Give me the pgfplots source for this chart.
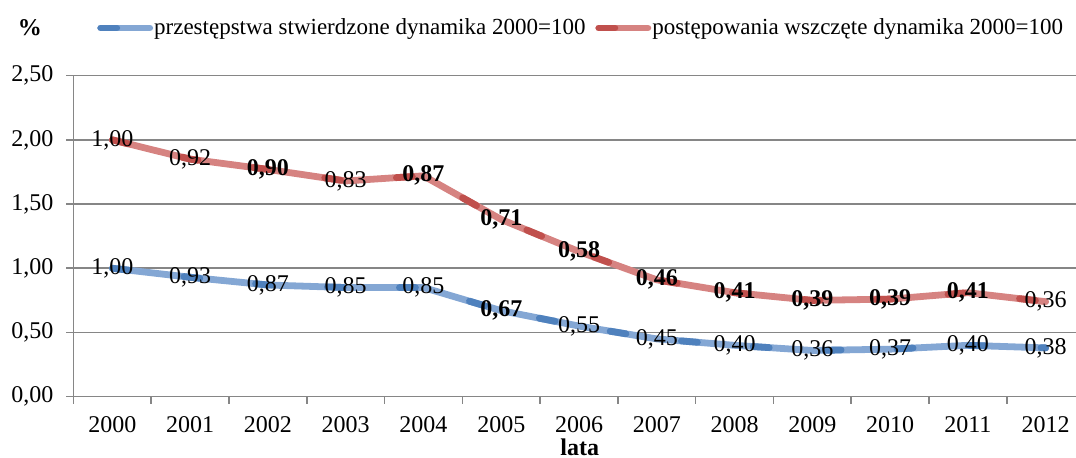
\documentclass[border=0pt]{standalone}
\usepackage{fontspec}
\setmainfont{Liberation Serif}
\usepackage{pgfplots}
\pgfplotsset{compat=1.18}
\definecolor{bluedark}{RGB}{79,129,189}
\definecolor{bluelight}{RGB}{132,167,212}
\definecolor{reddark}{RGB}{192,80,77}
\definecolor{redlight}{RGB}{214,131,129}
\definecolor{gridgray}{RGB}{134,134,134}
\newcommand{\fs}{\fontsize{12}{14}\selectfont}
\newcommand{\fl}{\fontsize{11.5}{13}\selectfont}
\begin{document}
\begin{tikzpicture}[font=\fs]
\path[use as bounding box] (0,0) rectangle (538pt,229pt);
\begin{axis}[
  at={(36.75pt,30.65pt)}, anchor=south west,
  scale only axis, width=501.25pt, height=160.5pt,
  xmin=-0.5, xmax=12.39, ymin=0, ymax=2.5,
  axis x line=bottom, axis y line=left,
  axis line style={-, gridgray, line width=0.8pt},
  clip=false,
  stack plots=y,
  xtick={0,...,12},
  xticklabels={2000,2001,2002,2003,2004,2005,2006,2007,2008,2009,2010,2011,2012},
  major x tick style=transparent,
  minor xtick={-0.5,0.5,...,11.5},
  minor tick length=3.5pt,
  major tick length=3.5pt,
  tick align=outside,
  tick style={gridgray, line width=0.8pt},
  ytick={0,0.5,...,2.5},
  ymajorgrids,
  grid style={gridgray, line width=0.8pt},
  /pgf/number format/fixed,
  /pgf/number format/fixed zerofill,
  /pgf/number format/precision=2,
  /pgf/number format/use comma,
  /pgf/number format/assume math mode=true,
  tick label style={font=\fs},
  yticklabel style={xshift=-3pt},
  xticklabel style={yshift=-3pt},
  xlabel={lata},
  xlabel style={at={(axis description cs:0.505,-0.157)}, anchor=center, font=\fs\bfseries},
  nodes near coords={\pgfplotspointmeta},
  point meta=explicit symbolic,
  nodes near coords style={anchor=center, font=\fs, inner sep=0pt, text=black},
  legend columns=2,
  legend style={draw=none, fill=none, at={(axis description cs:0.0234,1.1486)}, anchor=west,
    font=\fl, inner sep=0pt, /tikz/every even column/.append style={column sep=4.5pt},
    nodes={inner sep=0.5pt}},
  legend image code/.code={\draw[#1] (0pt,0pt) -- (24.5pt,0pt);},
]
\addplot[line width=3.4pt, bluelight, line join=round, line cap=round,
  postaction={draw, bluedark, line width=3.4pt, dash pattern=on 8pt off 28pt}]
coordinates {(0,1.00)[1,00] (1,0.93)[0,93] (2,0.87)[0,87] (3,0.85)[0,85] (4,0.85)[0,85]
 (5,0.67)[\textbf{0,67}] (6,0.55)[0,55] (7,0.45)[0,45] (8,0.40)[0,40] (9,0.36)[0,36]
 (10,0.37)[0,37] (11,0.40)[0,40] (12,0.38)[0,38]};
\addlegendentry{przestępstwa stwierdzone dynamika 2000=100}
\addplot[line width=3.4pt, redlight, line join=round, line cap=round,
  postaction={draw, reddark, line width=3.4pt, dash pattern=on 8pt off 28pt}]
coordinates {(0,1.00)[1,00] (1,0.92)[0,92] (2,0.90)[\textbf{0,90}] (3,0.83)[0,83]
 (4,0.87)[\textbf{0,87}] (5,0.71)[\textbf{0,71}] (6,0.58)[\textbf{0,58}] (7,0.46)[\textbf{0,46}]
 (8,0.41)[\textbf{0,41}] (9,0.39)[\textbf{0,39}] (10,0.39)[\textbf{0,39}] (11,0.41)[\textbf{0,41}]
 (12,0.36)[0,36]};
\addlegendentry{postępowania wszczęte dynamika 2000=100}
\node[font=\fs\bfseries] at (axis description cs:-0.0434,1.1486) {\%};
\end{axis}
\end{tikzpicture}
\end{document}
